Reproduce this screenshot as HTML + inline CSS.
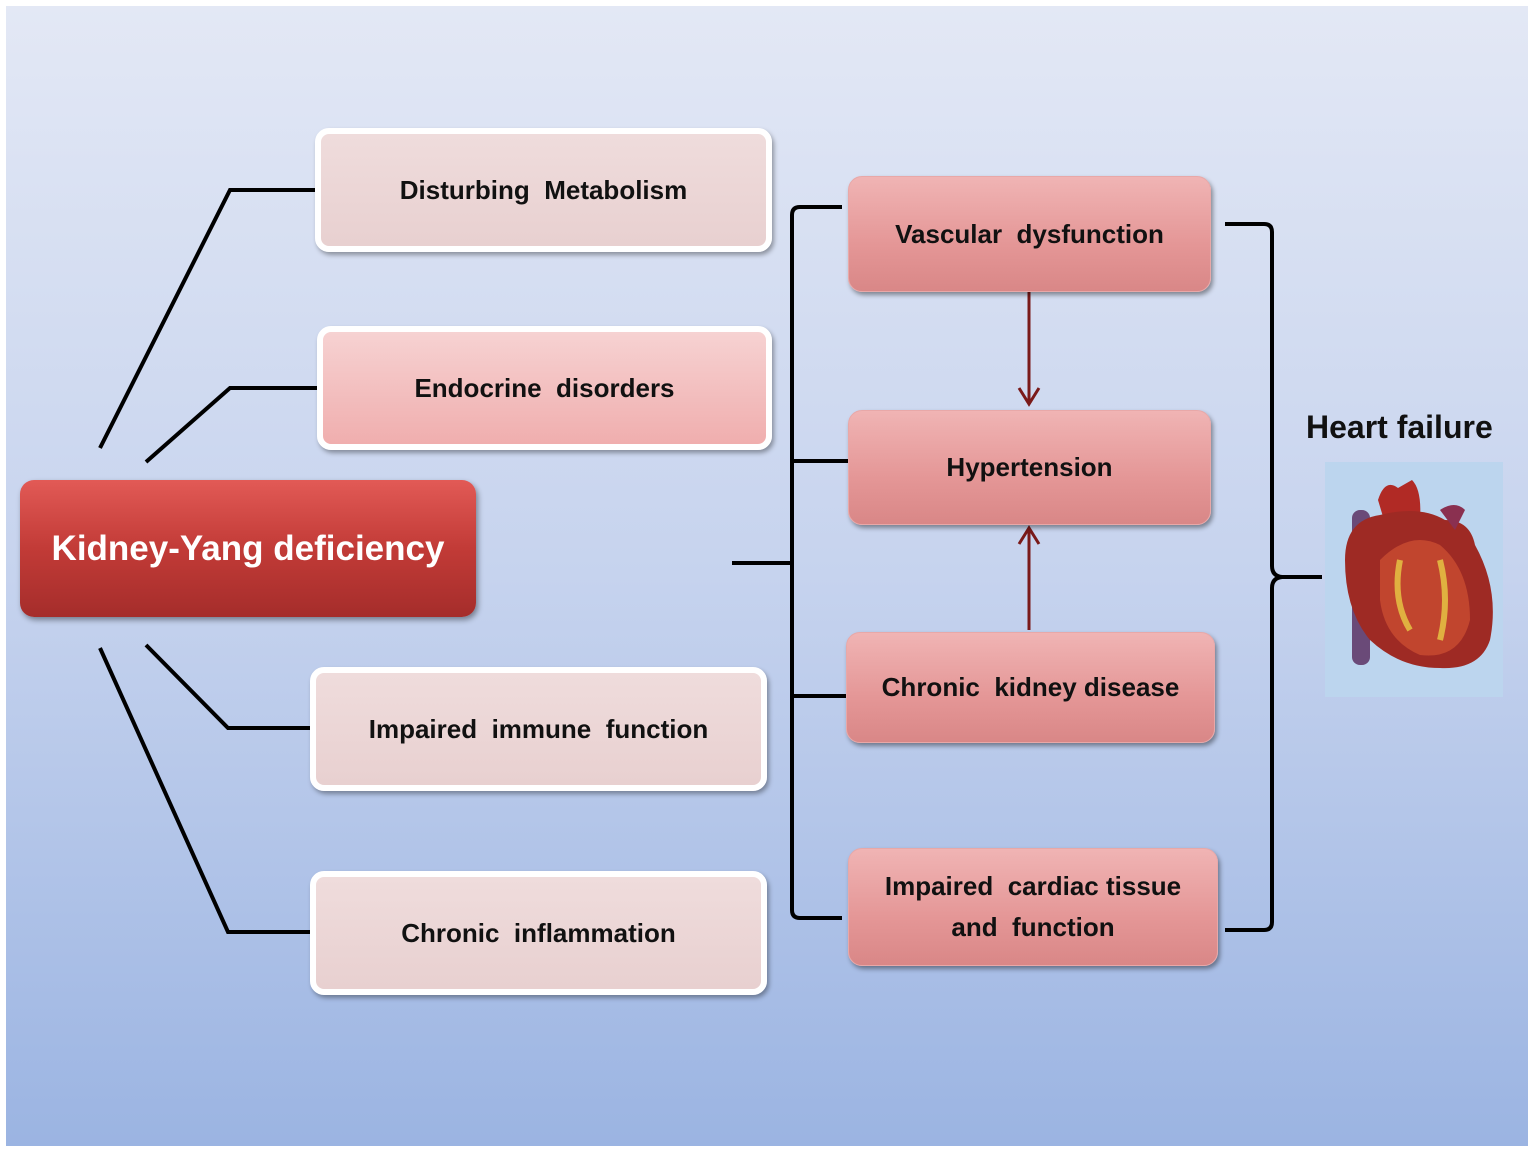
<!DOCTYPE html>
<html><head><style>
body{margin:0;width:1535px;height:1153px;background:#fff;position:relative;overflow:hidden;font-family:"Liberation Sans",sans-serif}
#bg{position:absolute;left:6px;top:6px;width:1522px;height:1140px;background:linear-gradient(#e3e8f5,#c6d3ee 50%,#9bb4e2)}
.b{position:absolute;box-sizing:border-box;display:flex;align-items:center;justify-content:center;text-align:center;font-weight:bold;font-size:26px;color:#111;border-radius:14px;letter-spacing:0}
.l{border:6px solid #fff;box-shadow:2px 3px 5px rgba(0,0,0,.35)}
.m{background:linear-gradient(#f0b4b4,#e49696 60%,#d98787);box-shadow:2px 3px 5px rgba(0,0,0,.4);border:1px solid #e8a8a8}
svg{position:absolute;left:0;top:0}
</style></head><body>
<div id="bg"></div>
<svg width="1535" height="1153">
<g stroke="#000" stroke-width="4" fill="none">
<polyline points="100,448 230,190 318,190"/>
<polyline points="146,462 230,388 320,388"/>
<polyline points="146,645 228,728 313,728"/>
<polyline points="100,648 228,932 313,932"/>
<path d="M842,207 H800 Q792,207 792,215 V910 Q792,918 800,918 H842"/>
<path d="M792,461 H850 M792,696 H850 M732,563 H792"/>
<path d="M1225,224 H1264 Q1272,224 1272,232 V566 Q1272,576 1282,577 H1322 M1282,577 Q1272,578 1272,588 V922 Q1272,930 1264,930 H1225"/>
</g>
<g stroke="#7a1a1a" stroke-width="3" fill="none">
<path d="M1029,292 V402 M1019,388 L1029,404 L1039,388"/>
<path d="M1029,630 V530 M1019,544 L1029,528 L1039,544"/>
</g>
<rect x="1325" y="462" width="178" height="235" fill="#bcd5ee"/>
<g>
<rect x="1352" y="510" width="18" height="155" rx="8" fill="#6a4a78"/>
<path d="M1378,500 Q1385,478 1398,488 L1412,480 Q1422,490 1420,520 L1390,540 Z" fill="#b12a25"/>
<path d="M1345,560 Q1345,520 1380,515 Q1420,505 1445,520 Q1470,520 1475,545 Q1500,590 1490,640 Q1480,670 1440,668 Q1400,668 1370,640 Q1345,610 1345,560 Z" fill="#9e2a24"/>
<path d="M1380,560 Q1410,530 1440,545 Q1470,570 1470,620 Q1460,660 1420,655 Q1385,640 1380,600 Z" fill="#c1452e"/>
<path d="M1440,510 Q1455,500 1465,510 L1455,530 Z" fill="#8a3050"/>
<path d="M1400,560 Q1392,600 1410,630 M1440,560 Q1450,600 1440,640" stroke="#e0b040" stroke-width="6" fill="none"/>
</g>
</svg>
<div class="b l" style="left:315px;top:128px;width:457px;height:124px;background:linear-gradient(#efdcdc,#e8d0d0)">Disturbing&nbsp; Metabolism</div>
<div class="b l" style="left:317px;top:326px;width:455px;height:124px;background:linear-gradient(#f6d2d2,#f0aeae)">Endocrine&nbsp; disorders</div>
<div class="b l" style="left:310px;top:667px;width:457px;height:124px;background:linear-gradient(#efdcdc,#e8d0d0)">Impaired&nbsp; immune&nbsp; function</div>
<div class="b l" style="left:310px;top:871px;width:457px;height:124px;background:linear-gradient(#efdcdc,#e8d0d0)">Chronic&nbsp; inflammation</div>
<div class="b" style="left:20px;top:480px;width:456px;height:137px;background:linear-gradient(#e25a56,#c23b37 50%,#a52d2b);color:#fff;font-size:35px;box-shadow:2px 3px 6px rgba(0,0,0,.4)">Kidney-Yang deficiency</div>
<div class="b m" style="left:848px;top:176px;width:363px;height:116px">Vascular&nbsp; dysfunction</div>
<div class="b m" style="left:848px;top:410px;width:363px;height:115px">Hypertension</div>
<div class="b m" style="left:846px;top:632px;width:369px;height:111px">Chronic&nbsp; kidney disease</div>
<div class="b m" style="left:848px;top:848px;width:370px;height:118px;line-height:41px">Impaired&nbsp; cardiac tissue<br>and&nbsp; function</div>
<div style="position:absolute;left:1306px;top:409px;font-weight:bold;font-size:32px;color:#111">Heart failure</div>
</body></html>
